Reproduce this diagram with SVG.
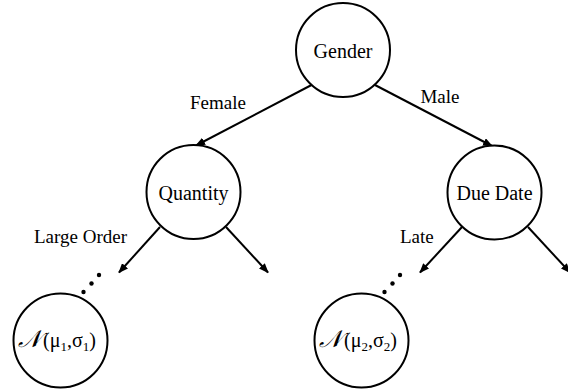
<svg xmlns="http://www.w3.org/2000/svg" width="568" height="392" viewBox="0 0 568 392">
<style>
.node{fill:#fff;stroke:#000;stroke-width:2}
.lbl{font-family:"Liberation Serif","Times New Roman",serif;font-size:20px;fill:#000}
.elbl{font-family:"Liberation Serif","Times New Roman",serif;font-size:19px;fill:#000}
.edge{stroke:#000;stroke-width:2;fill:none}
.sub{font-size:13px}
</style>
<defs>
<marker id="arr" markerUnits="userSpaceOnUse" markerWidth="10" markerHeight="8" refX="9" refY="4" orient="auto">
<path d="M0,0 L10,4 L0,8 z" fill="#000"/>
</marker>
</defs>
<g id="connectors">
<line class="edge" x1="311.5" y1="85" x2="196" y2="145.5" marker-end="url(#arr)"/>
<line class="edge" x1="375" y1="85" x2="492" y2="146" marker-end="url(#arr)"/>
<line class="edge" x1="160" y1="227" x2="119" y2="272.5" marker-end="url(#arr)"/>
<line class="edge" x1="226" y1="227" x2="268" y2="272.5" marker-end="url(#arr)"/>
<line class="edge" x1="462" y1="227" x2="420" y2="272.5" marker-end="url(#arr)"/>
<line class="edge" x1="528" y1="227" x2="570" y2="272.5" marker-end="url(#arr)"/>
<g id="dots1" fill="#000">
<circle cx="99" cy="275" r="2.2"/><circle cx="91.5" cy="283.5" r="2.2"/><circle cx="83.5" cy="292" r="2.2"/>
</g>
<g id="dots2" fill="#000">
<circle cx="400" cy="275" r="2.2"/><circle cx="392.5" cy="283.5" r="2.2"/><circle cx="384.5" cy="292" r="2.2"/>
</g>
<text class="elbl" x="218" y="109" text-anchor="middle">Female</text>
<text class="elbl" x="440" y="103" text-anchor="middle">Male</text>
<text class="elbl" x="127" y="243" text-anchor="end">Large Order</text>
<text class="elbl" x="400" y="243">Late</text>
</g>
<g id="gender">
<circle class="node" cx="343" cy="50" r="47"/>
<text class="lbl" x="343" y="58" text-anchor="middle">Gender</text>
</g>
<g id="quantity">
<circle class="node" cx="193.5" cy="192" r="47"/>
<text class="lbl" x="193.5" y="200" text-anchor="middle">Quantity</text>
</g>
<g id="duedate">
<circle class="node" cx="494.5" cy="192.5" r="47"/>
<text class="lbl" x="494.5" y="200" text-anchor="middle">Due Date</text>
</g>
<g id="leaf1">
<circle class="node" cx="60.5" cy="340.5" r="47"/>
<text class="lbl" x="57" y="347" text-anchor="middle"><tspan font-style="italic" font-size="24">𝒩</tspan><tspan dx="2">(μ</tspan><tspan class="sub" dy="4">1</tspan><tspan dy="-4">,σ</tspan><tspan class="sub" dy="4">1</tspan><tspan dy="-4">)</tspan></text>
</g>
<g id="leaf2">
<circle class="node" cx="361.5" cy="340.5" r="47"/>
<text class="lbl" x="358" y="347" text-anchor="middle"><tspan font-style="italic" font-size="24">𝒩</tspan><tspan dx="2">(μ</tspan><tspan class="sub" dy="4">2</tspan><tspan dy="-4">,σ</tspan><tspan class="sub" dy="4">2</tspan><tspan dy="-4">)</tspan></text>
</g>
</svg>
